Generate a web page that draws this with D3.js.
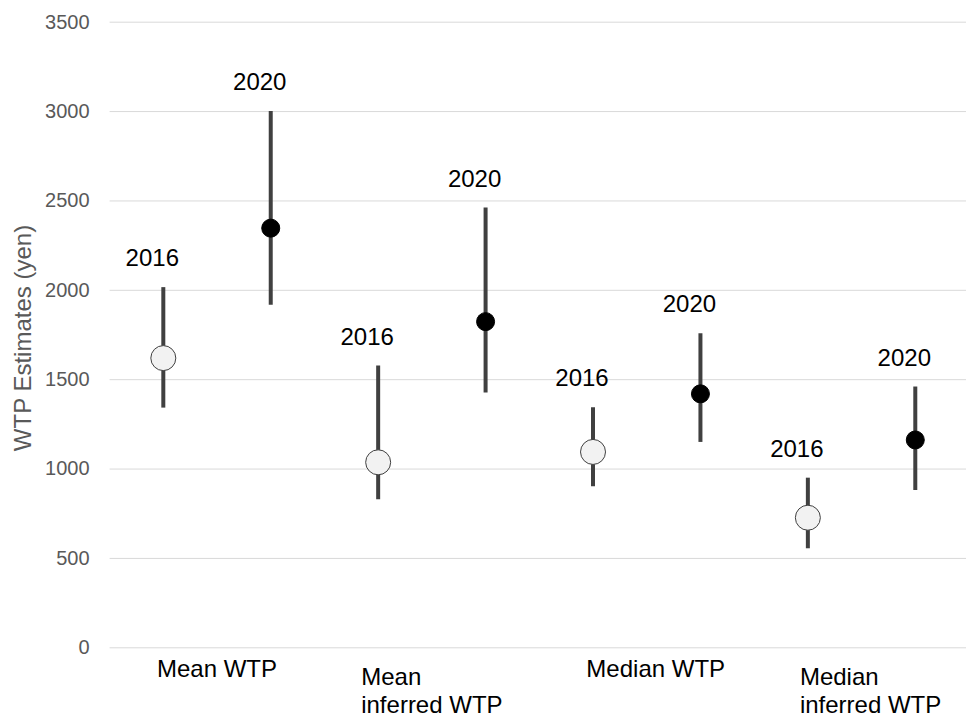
<!DOCTYPE html>
<html>
<head>
<meta charset="utf-8">
<script src="https://cdn.jsdelivr.net/npm/d3@7"></script>
<style>
    body { margin: 0; background: #fff; }
    #chart text { font-family: "Liberation Sans", Arial, sans-serif; }
</style>
</head>
<body>
<div id="chart"></div>
<script>
// Chart values
const categories = ["Mean WTP", "Mean inferred WTP", "Median WTP", "Median inferred WTP"];
const categoryLines = [["Mean WTP"], ["Mean", "inferred WTP"], ["Median WTP"], ["Median", "inferred WTP"]];
const years = ["2016", "2020"];

const est2016 = [1618, 1035, 1093, 725];
const low2016 = [1341, 828, 901, 554];
const high2016 = [2015, 1576, 1343, 949];

const est2020 = [2345, 1822, 1418, 1160];
const low2020 = [1916, 1425, 1149, 880];
const high2020 = [3000, 2460, 1757, 1459];

const yTicks = [0, 500, 1000, 1500, 2000, 2500, 3000, 3500];

document.addEventListener('DOMContentLoaded', function() {
    renderChart(buildRows());
});

function buildRows() {
    const rows = [];
    categories.forEach((c, i) => {
        rows.push({category: c, year: "2016", est: est2016[i], low: low2016[i], high: high2016[i]});
        rows.push({category: c, year: "2020", est: est2020[i], low: low2020[i], high: high2020[i]});
    });
    return rows;
}

function renderChart(data) {
    const width = 966;
    const height = 718;
    const margin = {top: 21.7, right: -3, bottom: 70.7, left: 109.6};
    const innerWidth = width - margin.left - margin.right;
    const innerHeight = height - margin.top - margin.bottom;

    const svg = d3.select("#chart")
        .append("svg")
        .attr("width", width)
        .attr("height", height);

    const g = svg.append("g")
        .attr("transform", `translate(${margin.left},${margin.top})`);

    // scales
    const x = d3.scaleBand()
        .domain(categories)
        .range([0, innerWidth]);

    const xYear = d3.scaleBand()
        .domain(years)
        .range([0, x.bandwidth()]);

    const y = d3.scaleLinear()
        .domain([0, 3500])
        .range([innerHeight, 0]);

    const cx = d => x(d.category) + xYear(d.year) + xYear.bandwidth() / 2;

    // gridlines + y labels
    const yAxis = g.append("g")
        .call(d3.axisLeft(y).tickValues(yTicks).tickSize(-innerWidth).tickPadding(20).tickFormat(d3.format("d")));
    yAxis.select(".domain").remove();
    yAxis.selectAll(".tick line").attr("stroke", "#d9d9d9").attr("stroke-width", 1);
    yAxis.selectAll(".tick text")
        .attr("fill", "#595959")
        .style("font-size", "20px");

    // y axis title
    svg.append("text")
        .attr("transform", "translate(31,338) rotate(-90)")
        .attr("text-anchor", "middle")
        .attr("fill", "#595959")
        .style("font-size", "24px")
        .text("WTP Estimates (yen)");

    // category labels (left aligned block, centred on category)
    const catLabels = g.append("g");
    categoryLines.forEach((lines, i) => {
        const t = catLabels.append("text")
            .attr("fill", "#000")
            .style("font-size", "24px");
        const firstBaseline = lines.length > 1 ? innerHeight + 38 : innerHeight + 30;
        lines.forEach((line, j) => {
            t.append("tspan")
                .attr("x", 0)
                .attr("y", firstBaseline + j * 28)
                .text(line);
        });
        const w = t.node().getBBox().width;
        // the Median labels sit a little right of centre in the original
        const shift = i >= 2 ? 9 : 0;
        t.attr("transform", `translate(${x(categories[i]) + x.bandwidth() / 2 - w / 2 + shift},0)`);
    });

    // error bars
    g.selectAll(".bar")
        .data(data)
        .enter()
        .append("line")
        .attr("class", "bar")
        .attr("x1", cx)
        .attr("x2", cx)
        .attr("y1", d => y(d.low))
        .attr("y2", d => y(d.high))
        .attr("stroke", "#404040")
        .attr("stroke-width", 4);

    // points
    g.selectAll(".pt")
        .data(data)
        .enter()
        .append("circle")
        .attr("class", "pt")
        .attr("cx", cx)
        .attr("cy", d => y(d.est))
        .attr("r", d => d.year === "2016" ? 12.5 : 9)
        .attr("fill", d => d.year === "2016" ? "#f2f2f2" : "#000")
        .attr("stroke", d => d.year === "2016" ? "#404040" : "#000")
        .attr("stroke-width", 1);

    // year labels above each bar
    g.selectAll(".yr")
        .data(data)
        .enter()
        .append("text")
        .attr("class", "yr")
        .attr("x", d => cx(d) - 11)
        .attr("y", d => y(d.high) - 21)
        .attr("text-anchor", "middle")
        .attr("fill", "#000")
        .style("font-size", "24px")
        .text(d => d.year);
}
</script>
</body>
</html>
